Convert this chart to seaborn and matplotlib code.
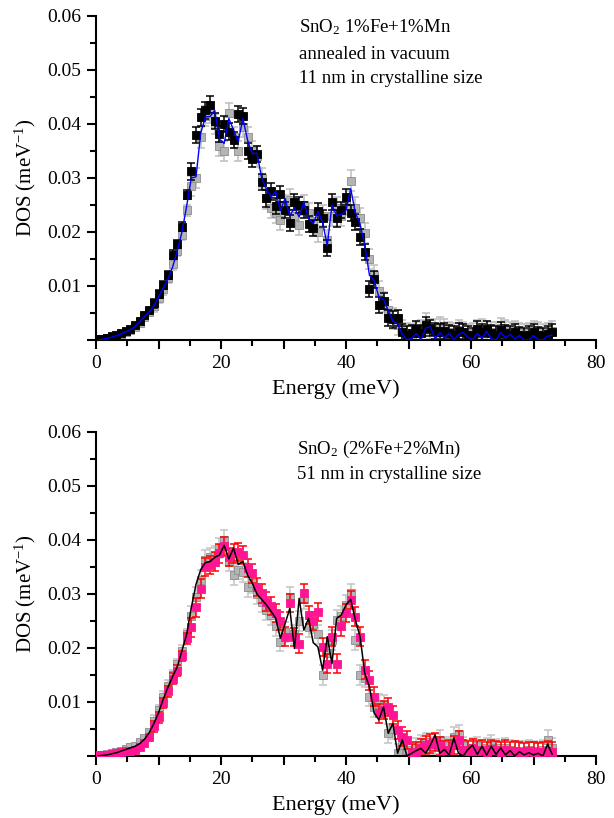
# DOS curves of doped SnO2, two panels (data + calculated line)

import numpy as np
import pandas as pd
import matplotlib
matplotlib.use("Agg")
import matplotlib.pyplot as plt
import seaborn as sns
from matplotlib.ticker import MultipleLocator, FuncFormatter

energy = [0.25, 1.0, 1.75, 2.5, 3.25, 4.0, 4.75, 5.5, 6.25, 7.0,
          7.75, 8.5, 9.25, 10.0, 10.75, 11.5, 12.25, 13.0, 13.75, 14.5,
          15.25, 16.0, 16.75, 17.5, 18.25, 19.0, 19.75, 20.5, 21.25, 22.0,
          22.75, 23.5, 24.25, 25.0, 25.75, 26.5, 27.25, 28.0, 28.75, 29.5,
          30.25, 31.0, 31.75, 32.5, 33.25, 34.0, 34.75, 35.5, 36.25, 37.0,
          37.75, 38.5, 39.25, 40.0, 40.75, 41.5, 42.25, 43.0, 43.75, 44.5,
          45.25, 46.0, 46.75, 47.5, 48.25, 49.0, 49.75, 50.5, 51.25, 52.0,
          52.75, 53.5, 54.25, 55.0, 55.75, 56.5, 57.25, 58.0, 58.75, 59.5,
          60.25, 61.0, 61.75, 62.5, 63.25, 64.0, 64.75, 65.5, 66.25, 67.0,
          67.75, 68.5, 69.25, 70.0, 70.75, 71.5, 72.25, 73.0]

# top panel: 1%Fe+1%Mn, 11 nm
top_black = [0.0001, 0.0002, 0.0004, 0.0007, 0.0009, 0.0013, 0.0017, 0.0021, 0.0027, 0.0036,
             0.0046, 0.0056, 0.0068, 0.0085, 0.0102, 0.0120, 0.0158, 0.0178, 0.0210, 0.0269,
             0.0312, 0.0380, 0.0412, 0.0425, 0.0436, 0.0405, 0.0382, 0.0400, 0.0386, 0.0370,
             0.0418, 0.0415, 0.0350, 0.0335, 0.0345, 0.0293, 0.0262, 0.0275, 0.0248, 0.0270,
             0.0240, 0.0216, 0.0255, 0.0250, 0.0240, 0.0215, 0.0207, 0.0238, 0.0225, 0.0170,
             0.0255, 0.0225, 0.0241, 0.0265, 0.0235, 0.0218, 0.0190, 0.0163, 0.0095, 0.0112,
             0.0065, 0.0072, 0.0040, 0.0038, 0.0040, 0.0014, 0.0010, 0.0012, 0.0021, 0.0012,
             0.0027, 0.0022, 0.0016, 0.0014, 0.0016, 0.0012, 0.0010, 0.0017, 0.0014, 0.0010,
             0.0008, 0.0020, 0.0014, 0.0021, 0.0012, 0.0010, 0.0018, 0.0013, 0.0010, 0.0014,
             0.0009, 0.0008, 0.0010, 0.0014, 0.0009, 0.0008, 0.0011, 0.0014]
top_gray = [0.0001, 0.0002, 0.0003, 0.0005, 0.0008, 0.0011, 0.0015, 0.0019, 0.0024, 0.0032,
            0.0042, 0.0052, 0.0062, 0.0078, 0.0094, 0.0115, 0.0140, 0.0165, 0.0195, 0.0240,
            0.0285, 0.0300, 0.0375, 0.0415, 0.0420, 0.0400, 0.0360, 0.0350, 0.0420, 0.0375,
            0.0350, 0.0395, 0.0375, 0.0350, 0.0340, 0.0300, 0.0262, 0.0245, 0.0235, 0.0222,
            0.0250, 0.0260, 0.0230, 0.0213, 0.0250, 0.0235, 0.0220, 0.0200, 0.0230, 0.0185,
            0.0230, 0.0245, 0.0230, 0.0250, 0.0295, 0.0245, 0.0225, 0.0198, 0.0150, 0.0120,
            0.0090, 0.0070, 0.0055, 0.0040, 0.0028, 0.0018, 0.0012, 0.0010, 0.0015, 0.0018,
            0.0030, 0.0020, 0.0020, 0.0024, 0.0020, 0.0014, 0.0013, 0.0018, 0.0015, 0.0010,
            0.0012, 0.0018, 0.0020, 0.0017, 0.0015, 0.0014, 0.0022, 0.0018, 0.0015, 0.0016,
            0.0012, 0.0010, 0.0013, 0.0016, 0.0014, 0.0010, 0.0012, 0.0016]
top_line = [0.0000, 0.0001, 0.0003, 0.0005, 0.0008, 0.0011, 0.0015, 0.0019, 0.0025, 0.0033,
            0.0043, 0.0052, 0.0063, 0.0080, 0.0096, 0.0112, 0.0135, 0.0165, 0.0200, 0.0248,
            0.0300, 0.0302, 0.0383, 0.0413, 0.0414, 0.0425, 0.0372, 0.0364, 0.0410, 0.0389,
            0.0367, 0.0410, 0.0370, 0.0345, 0.0346, 0.0300, 0.0280, 0.0265, 0.0275, 0.0240,
            0.0262, 0.0230, 0.0245, 0.0228, 0.0255, 0.0225, 0.0215, 0.0238, 0.0218, 0.0175,
            0.0250, 0.0230, 0.0232, 0.0240, 0.0280, 0.0235, 0.0215, 0.0175, 0.0120, 0.0110,
            0.0080, 0.0075, 0.0055, 0.0035, 0.0030, 0.0010, 0.0000, 0.0003, 0.0012, 0.0000,
            0.0022, 0.0024, 0.0002, 0.0014, 0.0004, 0.0013, 0.0000, 0.0010, 0.0014, 0.0005,
            0.0000, 0.0012, 0.0003, 0.0016, 0.0002, 0.0000, 0.0014, 0.0004, 0.0010, 0.0002,
            0.0008, 0.0000, 0.0000, 0.0008, 0.0001, 0.0000, 0.0007, 0.0009]
top_black_err = [0.0002] * 12 + [0.0008] * 8 + [0.0015] * 78
top_gray_err = [0.0003] * 12 + [0.0010] * 8 + [0.0019] * 78

# bottom panel: 2%Fe+2%Mn, 51 nm
bot_pink = [0.0001, 0.0001, 0.0002, 0.0003, 0.0005, 0.0007, 0.0009, 0.0010, 0.0011, 0.0016,
            0.0024, 0.0035, 0.0055, 0.0072, 0.0098, 0.0120, 0.0143, 0.0158, 0.0185, 0.0218,
            0.0238, 0.0275, 0.0310, 0.0350, 0.0354, 0.0360, 0.0375, 0.0388, 0.0369, 0.0375,
            0.0378, 0.0372, 0.0348, 0.0338, 0.0313, 0.0301, 0.0286, 0.0278, 0.0265, 0.0250,
            0.0221, 0.0283, 0.0220, 0.0208, 0.0301, 0.0261, 0.0250, 0.0267, 0.0202, 0.0171,
            0.0221, 0.0171, 0.0240, 0.0265, 0.0289, 0.0258, 0.0221, 0.0160, 0.0140, 0.0110,
            0.0079, 0.0085, 0.0091, 0.0076, 0.0048, 0.0036, 0.0030, 0.0005, 0.0008, 0.0014,
            0.0020, 0.0023, 0.0026, 0.0018, 0.0011, 0.0012, 0.0020, 0.0030, 0.0012, 0.0010,
            0.0014, 0.0010, 0.0012, 0.0008, 0.0013, 0.0011, 0.0008, 0.0012, 0.0009, 0.0010,
            0.0008, 0.0007, 0.0009, 0.0008, 0.0007, 0.0008, 0.0010, 0.0008]
bot_gray = [0.0001, 0.0002, 0.0003, 0.0005, 0.0007, 0.0010, 0.0013, 0.0016, 0.0019, 0.0025,
            0.0033, 0.0045, 0.0065, 0.0085, 0.0110, 0.0130, 0.0150, 0.0170, 0.0195, 0.0225,
            0.0260, 0.0295, 0.0326, 0.0363, 0.0368, 0.0370, 0.0385, 0.0400, 0.0360, 0.0335,
            0.0345, 0.0340, 0.0313, 0.0320, 0.0300, 0.0285, 0.0270, 0.0261, 0.0240, 0.0212,
            0.0230, 0.0295, 0.0225, 0.0250, 0.0290, 0.0239, 0.0245, 0.0225, 0.0150, 0.0190,
            0.0215, 0.0252, 0.0260, 0.0280, 0.0301, 0.0215, 0.0150, 0.0145, 0.0110, 0.0090,
            0.0097, 0.0095, 0.0042, 0.0050, 0.0005, 0.0020, 0.0012, 0.0008, 0.0015, 0.0020,
            0.0025, 0.0018, 0.0022, 0.0030, 0.0015, 0.0018, 0.0036, 0.0040, 0.0018, 0.0012,
            0.0015, 0.0018, 0.0012, 0.0015, 0.0020, 0.0014, 0.0010, 0.0015, 0.0012, 0.0010,
            0.0009, 0.0010, 0.0012, 0.0010, 0.0008, 0.0011, 0.0030, 0.0015]
bot_line = [0.0000, 0.0001, 0.0002, 0.0004, 0.0006, 0.0009, 0.0012, 0.0015, 0.0018, 0.0023,
            0.0031, 0.0043, 0.0060, 0.0080, 0.0105, 0.0127, 0.0147, 0.0165, 0.0195, 0.0225,
            0.0275, 0.0318, 0.0345, 0.0358, 0.0360, 0.0368, 0.0372, 0.0390, 0.0365, 0.0385,
            0.0355, 0.0360, 0.0335, 0.0320, 0.0300, 0.0290, 0.0280, 0.0268, 0.0255, 0.0218,
            0.0245, 0.0273, 0.0199, 0.0292, 0.0233, 0.0255, 0.0210, 0.0202, 0.0159, 0.0221,
            0.0171, 0.0255, 0.0261, 0.0280, 0.0290, 0.0252, 0.0221, 0.0153, 0.0128, 0.0080,
            0.0067, 0.0091, 0.0042, 0.0060, 0.0005, 0.0030, 0.0000, 0.0005, 0.0010, 0.0014,
            0.0005, 0.0020, 0.0039, 0.0005, 0.0012, 0.0002, 0.0033, 0.0005, 0.0000, 0.0012,
            0.0020, 0.0003, 0.0018, 0.0002, 0.0018, 0.0003, 0.0015, 0.0002, 0.0010, 0.0000,
            0.0008, 0.0002, 0.0006, 0.0002, 0.0005, 0.0000, 0.0022, 0.0003]
bot_pink_err = [0.0002] * 12 + [0.0010] * 8 + [0.0017] * 78
bot_gray_err = [0.0003] * 12 + [0.0010] * 8 + [0.0018] * 78

top_text = ["SnO$_2$ 1%Fe+1%Mn", "annealed in vacuum", "11 nm in crystalline size"]
bot_text = ["SnO$_2$ (2%Fe+2%Mn)", "51 nm in crystalline size"]

sns.set_theme(style="ticks")
plt.rcParams['font.family'] = ['Liberation Serif', 'DejaVu Serif']
plt.rcParams['mathtext.fontset'] = 'custom'
plt.rcParams['mathtext.rm'] = 'Liberation Serif'
plt.rcParams['mathtext.it'] = 'Liberation Serif:italic'
plt.rcParams['axes.linewidth'] = 1.5
plt.rcParams['axes.edgecolor'] = 'black'
plt.rcParams['text.color'] = 'black'
plt.rcParams['axes.labelcolor'] = 'black'
plt.rcParams['xtick.color'] = 'black'
plt.rcParams['ytick.color'] = 'black'

fig = plt.figure(figsize=(6.14, 8.18), dpi=100)
ax1 = fig.add_axes([0.1564, 0.5844, 0.8143, 0.3961])
ax2 = fig.add_axes([0.1564, 0.0758, 0.8143, 0.3961])


def draw_points(ax, y, err, face, edge, ecolor, z):
    ax.errorbar(energy, y, yerr=err, fmt='none', ecolor=ecolor, elinewidth=1.1,
                capsize=3, capthick=1.1, zorder=z)
    sns.scatterplot(x=energy, y=y, ax=ax, marker='s', s=26, color=face,
                    edgecolor=edge, linewidth=0.6, zorder=z + 0.5, legend=False)


def style(ax):
    ax.set_xlim(0, 80)
    ax.set_ylim(0, 0.06)
    sns.despine(ax=ax)
    ax.grid(False)
    ax.xaxis.set_major_locator(MultipleLocator(10))
    ax.xaxis.set_minor_locator(MultipleLocator(5))
    ax.xaxis.set_major_formatter(FuncFormatter(lambda v, p: f"{v:.0f}" if round(v) % 20 == 0 else ""))
    ax.yaxis.set_major_locator(MultipleLocator(0.01))
    ax.yaxis.set_minor_locator(MultipleLocator(0.005))
    ax.yaxis.set_major_formatter(FuncFormatter(lambda v, p: "" if abs(v) < 1e-9 else f"{v:.2f}"))
    ax.tick_params(which='major', direction='out', length=6.5, width=1.5, labelsize=14, pad=4)
    ax.tick_params(which='minor', direction='out', length=4, width=1.5)
    ax.set_xlabel("Energy (meV)", fontsize=16)
    ax.set_ylabel("DOS (meV$^{-1}$)", fontsize=15)
    ax.xaxis.set_label_coords(0.48, -0.12)
    ax.yaxis.set_label_coords(-0.116, 0.5)


# top
draw_points(ax1, top_gray, top_gray_err, '#b4b4b4', '#8c8c8c', '#bdbdbd', 2)
draw_points(ax1, top_black, top_black_err, 'black', 'black', 'black', 3)
sns.lineplot(x=energy, y=top_line, ax=ax1, color='#0000ff', lw=1.0, zorder=5)
style(ax1)
for txt, yy in zip(top_text, [0.948, 0.867, 0.793]):
    ax1.text(0.406, yy, txt, transform=ax1.transAxes, fontsize=13.5, va='baseline', ha='left')

# bottom
draw_points(ax2, bot_gray, bot_gray_err, '#b4b4b4', '#8c8c8c', '#c4c4c4', 2)
draw_points(ax2, bot_pink, bot_pink_err, '#ff1493', '#ff1493', '#ff0000', 3)
sns.lineplot(x=energy, y=bot_line, ax=ax2, color='black', lw=1.1, zorder=5)
style(ax2)
for txt, yy in zip(bot_text, [0.932, 0.855]):
    ax2.text(0.402, yy, txt, transform=ax2.transAxes, fontsize=13.5, va='baseline', ha='left')

fig.savefig("out.png", dpi=100)
